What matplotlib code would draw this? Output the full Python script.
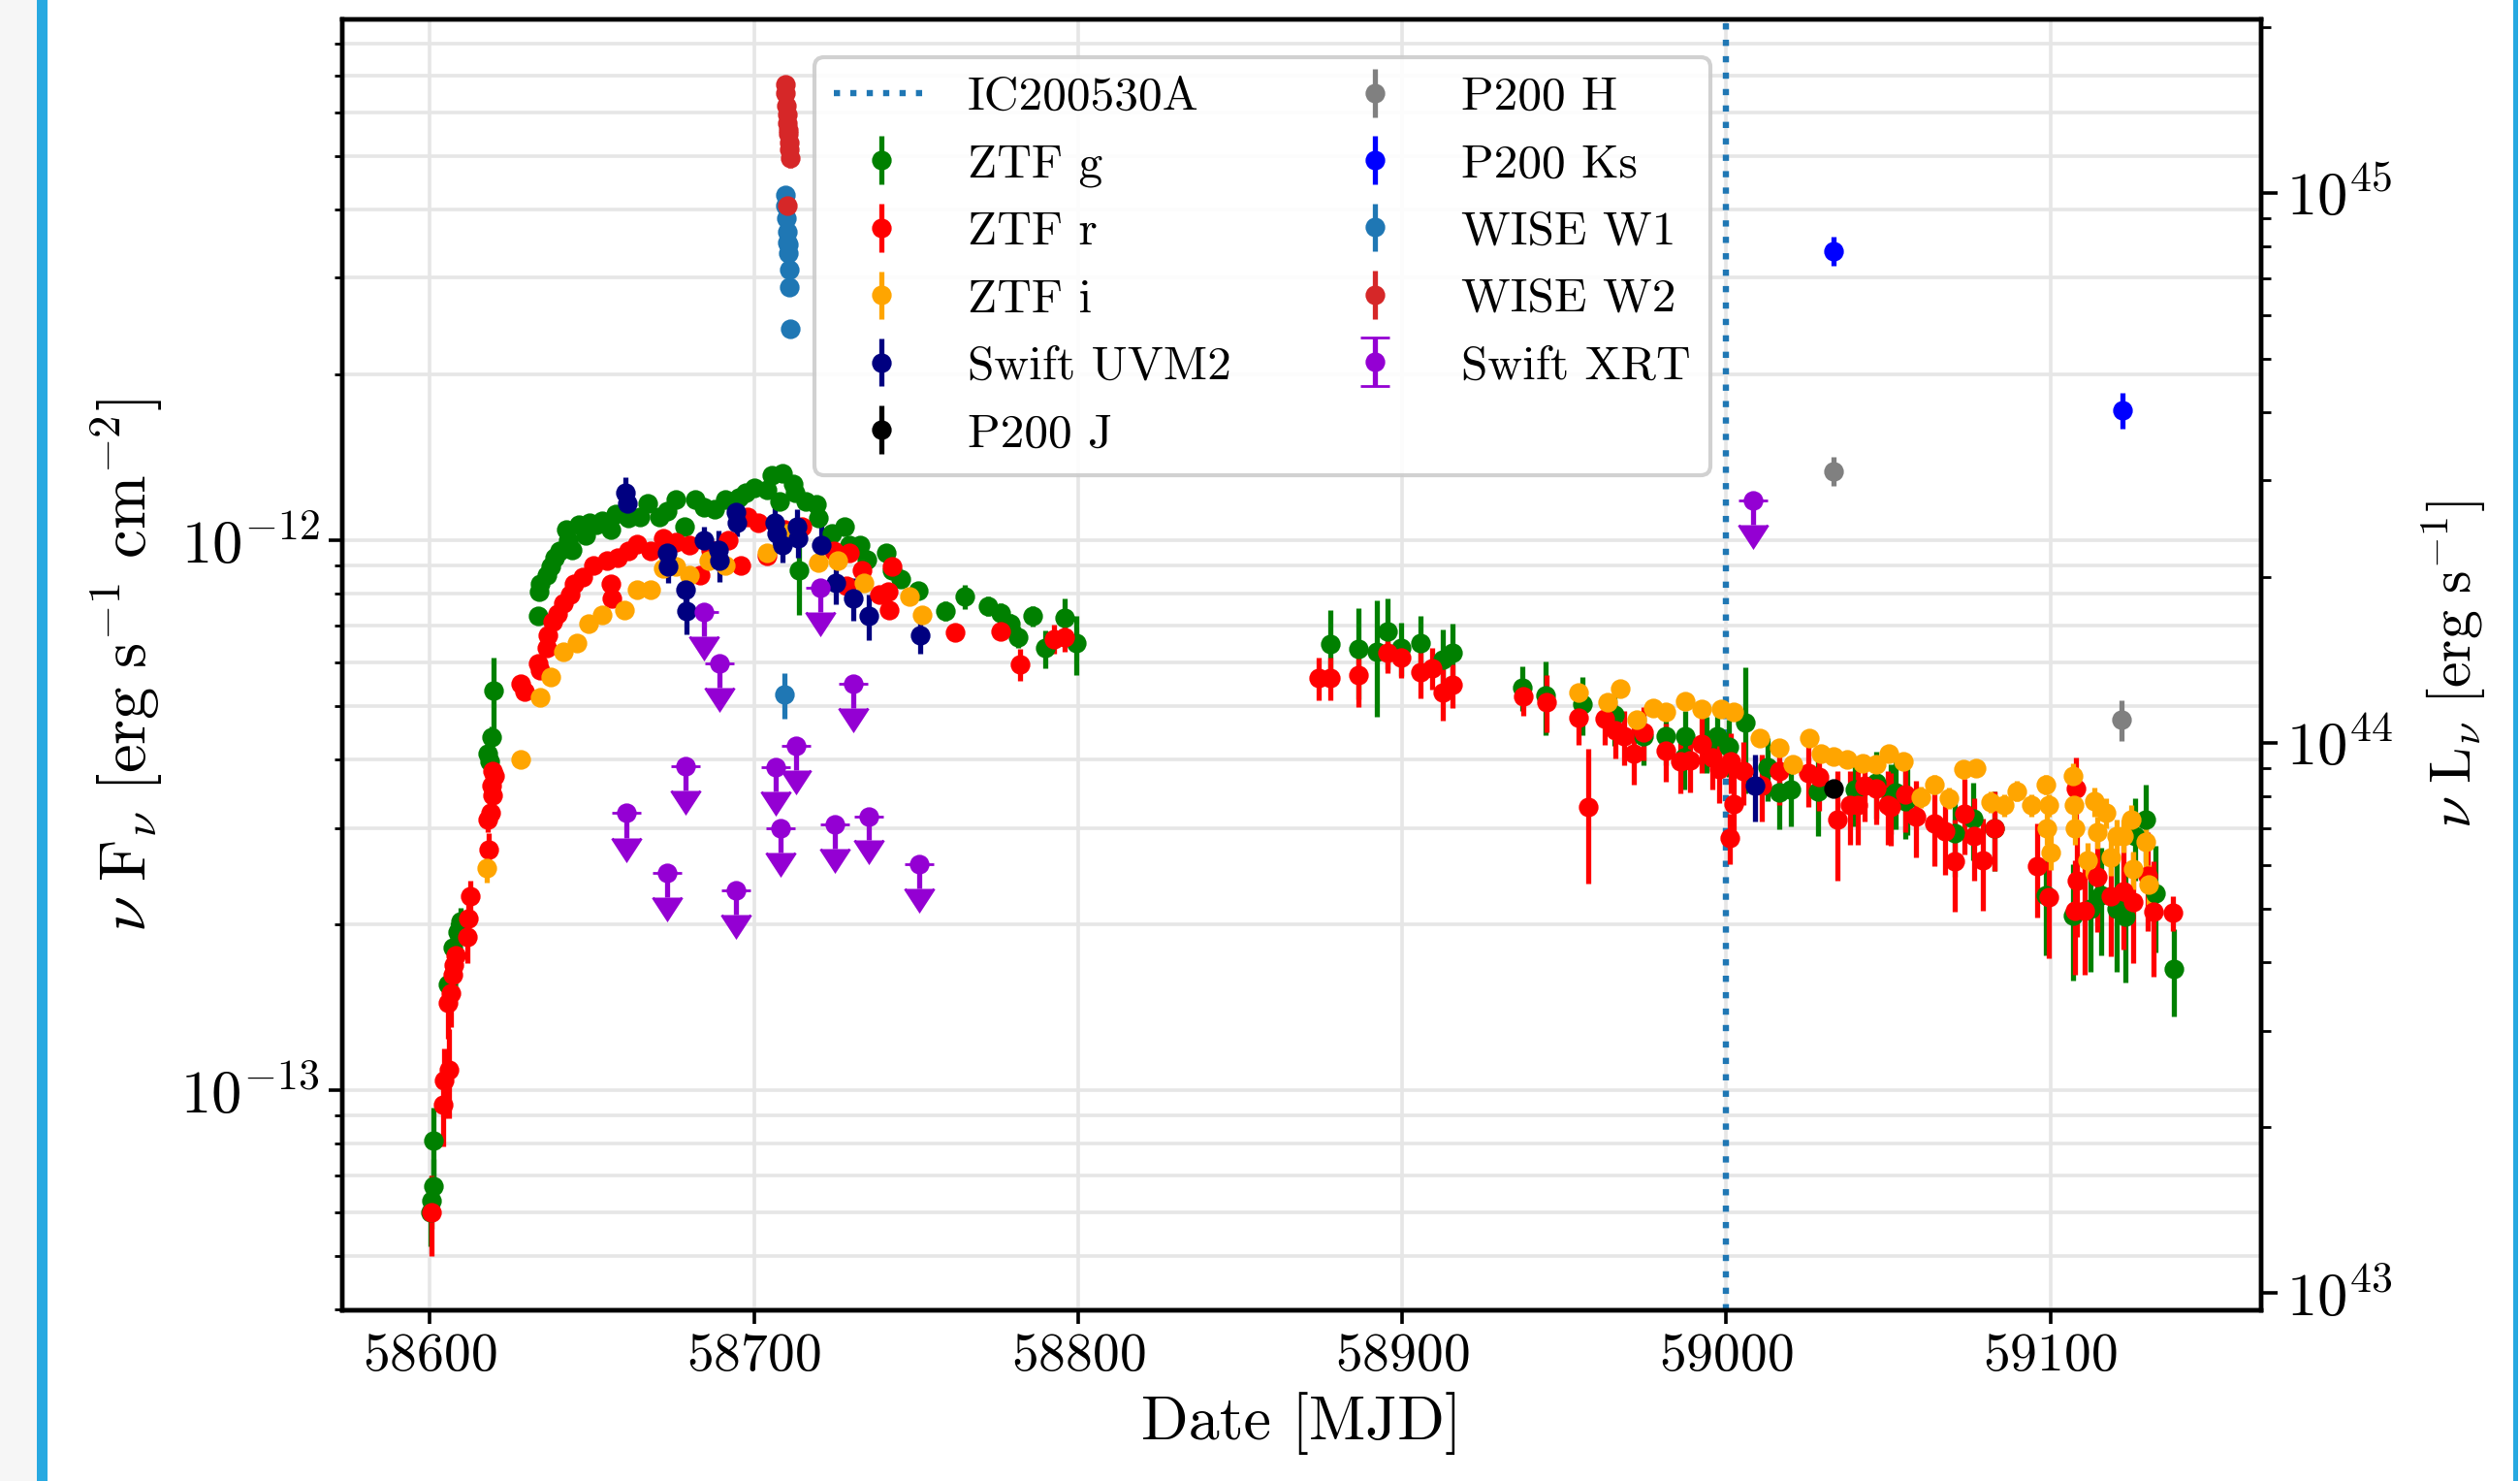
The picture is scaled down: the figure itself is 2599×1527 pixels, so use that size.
import numpy as np
import matplotlib
matplotlib.use("Agg")
import matplotlib.pyplot as plt
from matplotlib.patches import Rectangle

plt.rcParams['font.family'] = 'serif'
plt.rcParams['font.serif'] = ['cmr10']
plt.rcParams['mathtext.fontset'] = 'cm'
plt.rcParams['axes.formatter.use_mathtext'] = True
plt.rcParams['axes.unicode_minus'] = True

# ---------------- data (flux in units of 1e-12 erg s^-1 cm^-2) ----------------
g_mjd = [58600.2, 58600.6, 58601.0, 58601.2, 58605.5, 58607.0, 58608.5, 58609.5,
         58618.0, 58618.6, 58619.0, 58619.6,
         58633.3, 58633.6, 58634.0, 58636.0, 58637.3, 58638.6, 58640.0, 58642.0, 58642.6,
         58644.0, 58646.0, 58648.0, 58649.3, 58651.3, 58653.3, 58656.0, 58657.3, 58661.3,
         58664.7, 58667.3, 58670.7, 58673.3, 58676.0, 58678.7, 58682.0, 58684.7, 58688.0,
         58691.3, 58695.4, 58697.4, 58700.0, 58704.0, 58705.4, 58708.0, 58708.7, 58712.0,
         58712.7, 58714.0, 58716.0, 58719.4, 58719.8, 58724.0, 58728.0, 58729.4, 58732.7,
         58734.7, 58740.7, 58742.7, 58745.4, 58750.7, 58759.0, 58765.1, 58772.1, 58776.0,
         58779.0, 58781.5, 58786.0, 58790.0, 58796.0, 58799.5,
         58877.7, 58886.5, 58892.2, 58895.5, 58899.7, 58905.6, 58912.6, 58915.6,
         58937.0, 58944.2, 58955.5, 58965.4, 58974.4, 58981.4, 58986.9, 58987.4, 58993.8,
         58997.3, 59000.8, 59005.8, 59012.8, 59016.3, 59019.8, 59028.2, 59039.7, 59046.2,
         59050.7, 59052.2, 59055.2, 59055.7, 59070.6, 59076.1, 59082.6, 59098.5, 59107.0,
         59112.5, 59115.5, 59120.5, 59123.0, 59126.0, 59129.4, 59132.4, 59138.1]
g_flux = [0.060, 0.063, 0.067, 0.081, 0.156, 0.182, 0.194, 0.203,
          0.410, 0.396, 0.438, 0.533,
          0.728, 0.805, 0.834, 0.865, 0.897, 0.930, 0.955, 1.047, 1.000,
          0.960, 1.066, 1.019, 1.076, 1.066, 1.084, 1.047, 1.114, 1.096,
          1.104, 1.167, 1.104, 1.130, 1.188, 1.057, 1.188, 1.150, 1.140,
          1.188, 1.196, 1.221, 1.245, 1.235, 1.313, 1.178, 1.324, 1.265,
          1.220, 0.882, 1.178, 1.160, 1.096, 1.028, 1.057, 0.980, 0.980,
          0.922, 0.948, 0.882, 0.849, 0.810, 0.743, 0.790, 0.759, 0.738,
          0.704, 0.667, 0.728, 0.636, 0.723, 0.649,
          0.648, 0.634, 0.628, 0.683, 0.637, 0.649, 0.607, 0.624,
          0.540, 0.522, 0.503, 0.482, 0.440, 0.440, 0.402, 0.440, 0.427,
          0.440, 0.421, 0.467, 0.386, 0.348, 0.352, 0.350, 0.352, 0.362,
          0.342, 0.348, 0.336, 0.341, 0.294, 0.312, 0.300, 0.226, 0.208,
          0.214, 0.226, 0.214, 0.207, 0.290, 0.310, 0.228, 0.166]
g_err = [0.008, 0.007, 0.008, 0.012, 0.015, 0.020, 0.015, 0.012,
         0.020, 0.020, 0.020, 0.080,
         0.015, 0.015, 0.015, 0.015, 0.015, 0.015, 0.015, 0.015, 0.015,
         0.015, 0.015, 0.015, 0.015, 0.015, 0.015, 0.015, 0.015, 0.015,
         0.015, 0.015, 0.015, 0.015, 0.015, 0.015, 0.015, 0.015, 0.015,
         0.015, 0.015, 0.015, 0.015, 0.015, 0.015, 0.015, 0.015, 0.015,
         0.015, 0.150, 0.020, 0.020, 0.020, 0.020, 0.020, 0.020, 0.020,
         0.020, 0.020, 0.020, 0.020, 0.020, 0.030, 0.040, 0.030, 0.030,
         0.030, 0.030, 0.030, 0.050, 0.060, 0.080,
         0.100, 0.120, 0.150, 0.100, 0.070, 0.080, 0.080, 0.080,
         0.050, 0.080, 0.060, 0.060, 0.050, 0.050, 0.050, 0.050, 0.050,
         0.050, 0.050, 0.120, 0.050, 0.050, 0.050, 0.060, 0.050, 0.050,
         0.050, 0.050, 0.050, 0.050, 0.050, 0.050, 0.050, 0.050, 0.050,
         0.050, 0.050, 0.050, 0.050, 0.050, 0.050, 0.050, 0.030]

r_mjd = [58600.6, 58604.0, 58604.5, 58606.0, 58605.5, 58606.5, 58607.0, 58607.5, 58608.0,
         58611.5, 58612.0, 58612.5, 58618.3, 58618.0, 58618.7, 58619.5, 58619.0, 58620.0,
         58619.3, 58628.0, 58629.3, 58633.3, 58634.0, 58636.0, 58636.3, 58638.0, 58639.3,
         58641.3, 58643.3, 58644.6, 58647.3, 58650.6, 58654.6, 58656.0, 58656.3, 58658.0,
         58661.3, 58664.0, 58668.0, 58672.0, 58676.0, 58680.0, 58683.4, 58686.7, 58692.0,
         58696.0, 58698.0, 58701.4, 58704.0, 58709.4, 58714.7, 58724.7, 58728.7, 58729.4,
         58733.4, 58738.8, 58741.4, 58741.6, 58742.7, 58762.0, 58776.0, 58782.0, 58792.5,
         58796.0,
         58874.2, 58877.7, 58886.5, 58895.5, 58899.7, 58905.6, 58909.1, 58912.4, 58915.6,
         58937.5, 58944.5, 58954.5, 58957.5, 58962.4, 58965.9, 58968.4, 58971.4, 58974.4,
         58981.4, 58985.9, 58988.9, 58992.4, 58995.8, 58997.8, 59001.3, 59002.3, 59001.0,
         59005.3, 59010.8, 59016.3, 59025.2, 59028.7, 59034.2, 59038.2, 59040.7, 59042.7,
         59046.2, 59049.7, 59050.7, 59055.2, 59058.6, 59064.1, 59067.6, 59070.6, 59073.6,
         59076.6, 59079.1, 59082.6, 59096.0, 59099.5, 59108.0, 59108.2, 59107.5, 59110.5,
         59114.5, 59118.5, 59122.4, 59125.4, 59129.9, 59131.9, 59137.9]
r_flux = [0.060, 0.094, 0.104, 0.109, 0.144, 0.150, 0.162, 0.169, 0.176,
          0.190, 0.205, 0.225, 0.274, 0.310, 0.320, 0.344, 0.358, 0.373,
          0.380, 0.549, 0.530, 0.597, 0.580, 0.636, 0.672, 0.710, 0.734,
          0.769, 0.797, 0.834, 0.857, 0.900, 0.920, 0.834, 0.783, 0.930,
          0.955, 0.982, 0.955, 1.010, 0.990, 0.980, 0.865, 0.960, 1.000,
          0.900, 1.104, 1.076, 0.937, 1.047, 1.057, 0.955, 0.825, 0.948,
          0.882, 0.797, 0.805, 0.746, 0.897, 0.680, 0.683, 0.594, 0.662,
          0.666,
          0.562, 0.562, 0.568, 0.624, 0.611, 0.575, 0.586, 0.529, 0.545,
          0.520, 0.508, 0.475, 0.328, 0.474, 0.451, 0.440, 0.410, 0.448,
          0.414, 0.396, 0.398, 0.427, 0.402, 0.383, 0.396, 0.332, 0.288,
          0.380, 0.358, 0.380, 0.377, 0.372, 0.310, 0.330, 0.330, 0.358,
          0.354, 0.330, 0.328, 0.345, 0.315, 0.306, 0.296, 0.261, 0.318,
          0.290, 0.262, 0.300, 0.256, 0.224, 0.353, 0.240, 0.212, 0.212,
          0.244, 0.225, 0.230, 0.220, 0.245, 0.211, 0.210]
r_err = [0.010, 0.015, 0.015, 0.020, 0.020, 0.020, 0.015, 0.015, 0.015,
         0.020, 0.020, 0.015, 0.020, 0.015, 0.015, 0.015, 0.015, 0.015,
         0.015, 0.015, 0.015, 0.015, 0.015, 0.015, 0.015, 0.015, 0.015,
         0.015, 0.015, 0.015, 0.015, 0.015, 0.015, 0.015, 0.015, 0.015,
         0.015, 0.015, 0.015, 0.015, 0.015, 0.015, 0.015, 0.015, 0.015,
         0.015, 0.015, 0.015, 0.015, 0.015, 0.015, 0.015, 0.015, 0.015,
         0.015, 0.015, 0.015, 0.015, 0.015, 0.020, 0.020, 0.040, 0.040,
         0.040,
         0.050, 0.050, 0.070, 0.050, 0.050, 0.060, 0.050, 0.060, 0.050,
         0.040, 0.060, 0.050, 0.090, 0.050, 0.050, 0.050, 0.050, 0.050,
         0.050, 0.050, 0.050, 0.050, 0.050, 0.050, 0.050, 0.050, 0.030,
         0.050, 0.050, 0.050, 0.050, 0.050, 0.070, 0.050, 0.050, 0.050,
         0.050, 0.050, 0.050, 0.050, 0.050, 0.050, 0.050, 0.050, 0.050,
         0.050, 0.050, 0.050, 0.050, 0.050, 0.050, 0.050, 0.050, 0.050,
         0.050, 0.050, 0.050, 0.050, 0.050, 0.050, 0.015]

i_mjd = [58617.5, 58628.0, 58634.0, 58637.3, 58641.3, 58645.3, 58649.0, 58653.3, 58660.0,
         58664.0, 58668.0, 58672.0, 58676.0, 58680.0, 58686.0, 58691.3, 58704.0, 58710.0,
         58720.0, 58726.0, 58734.0, 58748.0, 58752.0,
         58954.5, 58963.4, 58967.4, 58972.4, 58977.4, 58981.4, 58987.4, 58992.4, 58998.3,
         59002.3, 59010.3, 59016.3, 59020.6, 59025.5, 59029.2, 59033.2, 59037.2, 59042.2,
         59046.2, 59050.2, 59054.5, 59060.1, 59064.1, 59068.6, 59073.1, 59077.1, 59081.6,
         59085.6, 59089.5, 59094.0, 59098.5, 59099.5, 59098.8, 59100.0, 59107.0, 59107.2,
         59107.5, 59111.5, 59113.5, 59114.5, 59117.0, 59118.5, 59120.5, 59122.4, 59124.9,
         59125.4, 59129.4, 59130.4]
i_flux = [0.254, 0.399, 0.517, 0.563, 0.628, 0.651, 0.705, 0.731, 0.748,
          0.812, 0.812, 0.889, 0.897, 0.865, 0.920, 0.900, 0.948, 1.028,
          0.910, 0.920, 0.836, 0.790, 0.733,
          0.528, 0.507, 0.538, 0.472, 0.495, 0.487, 0.509, 0.494, 0.494,
          0.488, 0.437, 0.420, 0.391, 0.437, 0.410, 0.405, 0.400, 0.393,
          0.391, 0.410, 0.397, 0.341, 0.360, 0.340, 0.383, 0.385, 0.334,
          0.330, 0.350, 0.330, 0.360, 0.330, 0.300, 0.271, 0.373, 0.330,
          0.300, 0.262, 0.335, 0.295, 0.320, 0.265, 0.290, 0.290, 0.310,
          0.252, 0.283, 0.237]
i_err = [0.015, 0.010, 0.010, 0.010, 0.010, 0.010, 0.010, 0.010, 0.010,
         0.010, 0.010, 0.010, 0.010, 0.010, 0.010, 0.010, 0.010, 0.010,
         0.010, 0.010, 0.010, 0.015, 0.015,
         0.010, 0.010, 0.010, 0.015, 0.015, 0.015, 0.010, 0.010, 0.010,
         0.010, 0.015, 0.015, 0.015, 0.015, 0.015, 0.010, 0.010, 0.010,
         0.010, 0.010, 0.010, 0.015, 0.015, 0.015, 0.015, 0.010, 0.015,
         0.015, 0.015, 0.015, 0.015, 0.015, 0.020, 0.020, 0.020, 0.020,
         0.020, 0.020, 0.020, 0.020, 0.020, 0.020, 0.020, 0.020, 0.020,
         0.020, 0.030, 0.020]

uv_mjd = [58660.4, 58660.8, 58673.1, 58673.5, 58678.8, 58679.2, 58684.7, 58689.1, 58689.5,
          58694.4, 58694.8, 58706.5, 58706.9, 58708.7, 58713.2, 58713.6, 58720.7, 58725.4,
          58730.7, 58735.4, 58751.4, 59008.8]
uv_flux = [1.221, 1.167, 0.950, 0.897, 0.813, 0.745, 1.000, 0.960, 0.920,
           1.124, 1.076, 1.076, 1.030, 0.980, 1.057, 1.010, 0.980, 0.836,
           0.784, 0.728, 0.672, 0.358]
uv_err = [0.08, 0.06, 0.07, 0.06, 0.06, 0.07, 0.06, 0.08, 0.08,
          0.07, 0.06, 0.10, 0.08, 0.07, 0.08, 0.08, 0.10, 0.07,
          0.07, 0.07, 0.05, 0.05]

j_mjd = [59033.2]
j_flux = [0.353]
j_err = [0.010]

h_mjd = [59033.2, 59121.8]
h_flux = [1.336, 0.472]
h_err = [0.08, 0.04]

ks_mjd = [59033.1, 59122.3]
ks_flux = [3.36, 1.725]
ks_err = [0.20, 0.13]

w1_mjd = [58709.6, 58709.8, 58710.0, 58710.2, 58710.4, 58710.5, 58710.6, 58710.8, 58711.0,
          58711.2, 58709.3]
w1_flux = [4.25, 4.06, 3.85, 3.64, 3.48, 3.45, 3.33, 3.10, 2.88, 2.42, 0.524]
w1_err = [0.08, 0.08, 0.08, 0.08, 0.08, 0.08, 0.08, 0.08, 0.08, 0.08, 0.05]

w2_mjd = [58709.6, 58709.8, 58710.0, 58710.2, 58710.4, 58710.5, 58710.6, 58710.8, 58711.0,
          58711.2, 58710.3]
w2_flux = [6.74, 6.51, 6.17, 5.94, 5.73, 5.58, 5.49, 5.29, 5.14, 4.96, 4.06]
w2_err = [0.25, 0.20, 0.20, 0.20, 0.20, 0.20, 0.20, 0.20, 0.20, 0.20, 0.20]

xrt_mjd = [58660.6, 58673.3, 58679.0, 58684.7, 58689.3, 58694.4, 58706.7, 58708.3,
           58713.1, 58720.5, 58725.1, 58730.5, 58735.4, 58751.0, 59008.3]
xrt_flux = [0.319, 0.248, 0.388, 0.741, 0.597, 0.231, 0.387, 0.299,
            0.423, 0.818, 0.304, 0.549, 0.315, 0.258, 1.183]
xrt_err = [0.031, 0.024, 0.037, 0.071, 0.057, 0.022, 0.037, 0.029,
           0.041, 0.079, 0.029, 0.053, 0.030, 0.025, 0.114]

ic_mjd = 59000.0
lum_factor_log = 56.3686   # nuL_nu / nuF_nu (log10)

# ---------------- figure ----------------
W, H, DPI = 2599, 1527, 200
fig = plt.figure(figsize=(W / DPI, H / DPI), dpi=DPI)
fig.patch.set_facecolor('white')

# screenshot frame decorations
fig.add_artist(Rectangle((0, 0), 38 / W, 1, transform=fig.transFigure,
                         facecolor='#f6f6f6', edgecolor='none'))
fig.add_artist(Rectangle((38 / W, 0), 11 / W, 1, transform=fig.transFigure,
                         facecolor='#27a9e1', edgecolor='none'))
fig.add_artist(Rectangle((2592 / W, 0), 5 / W, 1, transform=fig.transFigure,
                         facecolor='#27a9e1', edgecolor='none'))

ax = fig.add_axes([353 / W, 1 - 1351 / H, (2332 - 353) / W, (1351 - 20) / H])

ms = 6.3
elw = 1.9
common = dict(fmt='o', markersize=ms, elinewidth=elw)

def sc(v):
    return np.asarray(v) * 1e-12

h_ic = ax.axvline(ic_mjd, color='tab:blue', ls=':', lw=2.3, label='IC200530A')
h_g = ax.errorbar(g_mjd, sc(g_flux), yerr=sc(g_err), color='green', label='ZTF g', **common)
h_r = ax.errorbar(r_mjd, sc(r_flux), yerr=sc(r_err), color='red', label='ZTF r', **common)
h_i = ax.errorbar(i_mjd, sc(i_flux), yerr=sc(i_err), color='orange', label='ZTF i', **common)
h_uv = ax.errorbar(uv_mjd, sc(uv_flux), yerr=sc(uv_err), color='navy', label='Swift UVM2', **common)
h_j = ax.errorbar(j_mjd, sc(j_flux), yerr=sc(j_err), color='black', label='P200 J', **common)
h_h = ax.errorbar(h_mjd, sc(h_flux), yerr=sc(h_err), color='gray', label='P200 H', **common)
h_ks = ax.errorbar(ks_mjd, sc(ks_flux), yerr=sc(ks_err), color='blue', label='P200 Ks', **common)
h_w1 = ax.errorbar(w1_mjd, sc(w1_flux), yerr=sc(w1_err), color='tab:blue', label='WISE W1', **common)
h_w2 = ax.errorbar(w2_mjd, sc(w2_flux), yerr=sc(w2_err), color='tab:red', label='WISE W2', **common)
h_x = ax.errorbar(xrt_mjd, sc(xrt_flux), yerr=sc(xrt_err), uplims=True, capsize=5.5,
                  color='darkviolet', label='Swift XRT', **common)

ax.set_yscale('log')
ax.set_xlim(58573, 59165)
ylo, yhi = 3.98e-14, 8.85e-12
ax.set_ylim(ylo, yhi)
ax.set_xticks([58600, 58700, 58800, 58900, 59000, 59100])
ax.ticklabel_format(axis='x', useOffset=False, style='plain')

ax.grid(True, which='major', color='#e6e6e6', lw=1.3)
ax.grid(True, which='minor', axis='y', color='#e6e6e6', lw=1.3)
ax.set_axisbelow(True)

for sp in ax.spines.values():
    sp.set_linewidth(1.6)
ax.tick_params(which='major', length=5, width=1.3)
ax.tick_params(axis='x', labelsize=20)
ax.tick_params(axis='y', labelsize=22.5)
ax.tick_params(which='minor', length=3, width=1.0)

ax.set_xlabel('Date [MJD]', fontsize=23)
ax.set_ylabel(r'$\nu\ \mathrm{F}_\nu\ [\mathrm{erg\ s^{-1}\ cm^{-2}}]$', fontsize=24, labelpad=6)

ax2 = ax.twinx()
ax2.set_yscale('log')
ax2.set_ylim(ylo * 10 ** lum_factor_log, yhi * 10 ** lum_factor_log)
for sp in ax2.spines.values():
    sp.set_linewidth(1.6)
ax2.tick_params(which='major', length=6, width=1.3, labelsize=22.5)
ax2.tick_params(which='minor', length=3.5, width=1.0)
ax2.set_ylabel(r'$\nu\ \mathrm{L}_\nu\ [\mathrm{erg\ s^{-1}}]$', fontsize=21.5, labelpad=10)

handles = [h_ic, h_g, h_r, h_i, h_uv, h_j, h_h, h_ks, h_w1, h_w2, h_x]
labels = [h.get_label() for h in handles]
leg = ax.legend(handles, labels, ncol=2, loc='upper center', bbox_to_anchor=(0.4795, 0.9895),
                fontsize=17.8, framealpha=0.9, edgecolor='0.8')
leg.get_frame().set_linewidth(1.5)

fig.savefig('out.png', dpi=DPI)
